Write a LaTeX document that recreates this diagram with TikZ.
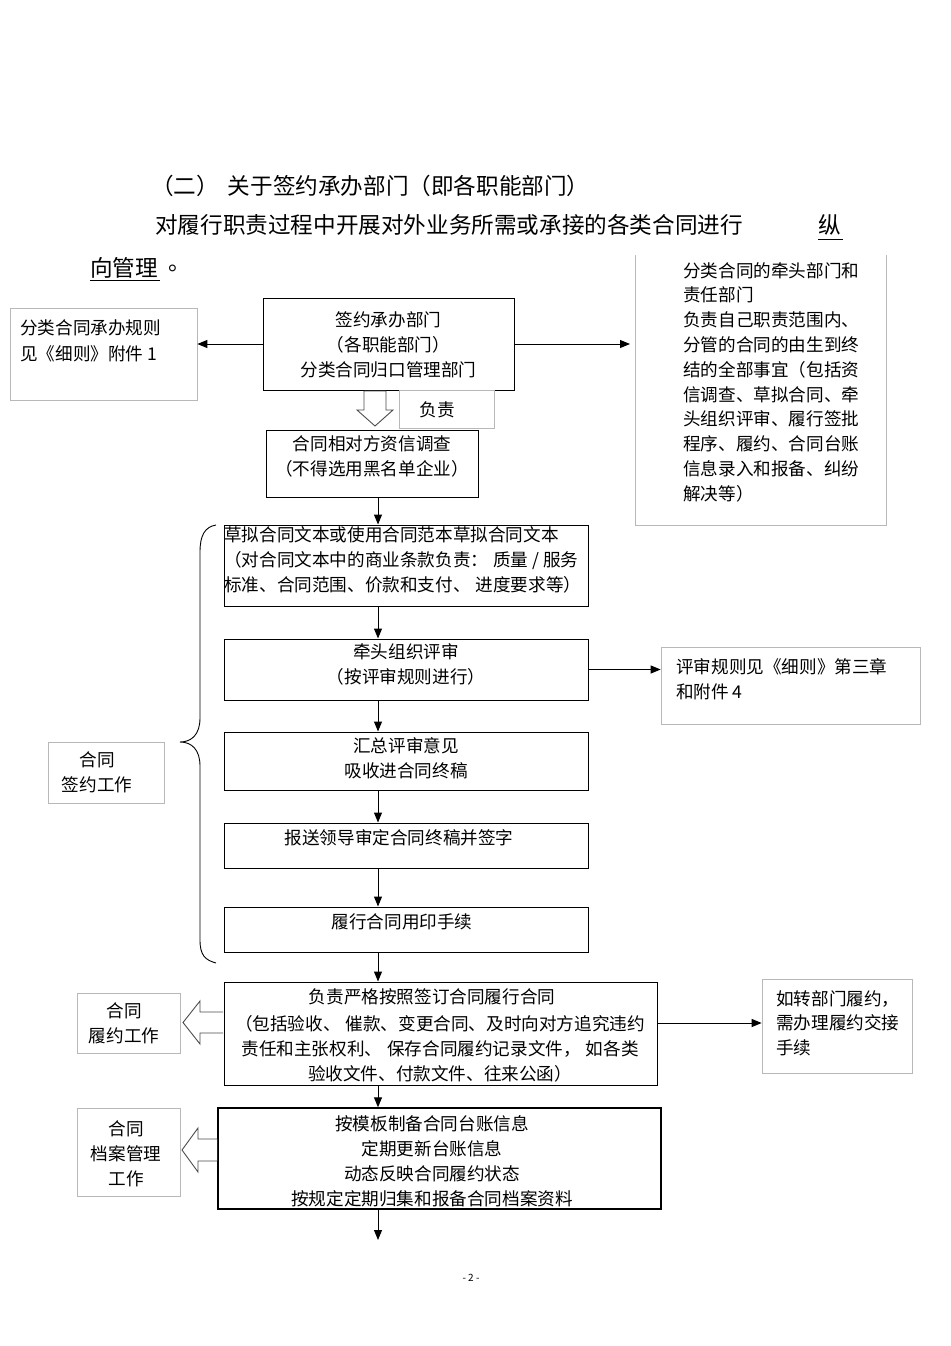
\documentclass[tikz,border=0pt]{standalone}
\usepackage{fontspec}
\setmainfont{Noto Sans CJK SC}
\usetikzlibrary{arrows.meta}
\begin{document}
\begin{tikzpicture}[x=1pt,y=-1pt,
  box/.style={draw=black,line width=1pt,inner sep=0pt,rectangle},
  gbox/.style={draw=black!28,line width=0.7pt,inner sep=0pt,rectangle},
  txt/.style={inner sep=0pt,font=\fontsize{17.6}{25}\selectfont,align=center},
  ltxt/.style={inner sep=0pt,font=\fontsize{17.6}{24.8}\selectfont,align=left,anchor=north west},
  ttl/.style={inner sep=0pt,font=\fontsize{22.6}{26}\selectfont,anchor=west},
  arr/.style={line width=1pt,-{Triangle[length=10pt,width=8pt]}},
  hollow/.style={draw=black!70,line width=0.9pt,fill=white}
]
\useasboundingbox (0,0) rectangle (950,1346);

% title
\node[ttl] (t1) at (151,186) {（二）\hspace{9pt}关于签约承办部门（即各职能部门）};
\node[ttl] (t2) at (155,225) {对履行职责过程中开展对外业务所需或承接的各类合同进行};
\node[ttl] (t2b) at (818,225) {纵};
\node[ttl] (t3) at (90,268) {向管理};
\node[ttl] (t3b) at (168,268) {。};
\draw[line width=0.8pt] (818,239) -- (843,239);
\draw[line width=0.8pt] (90,280) -- (160,280);

% main boxes
\node[box,minimum width=251pt,minimum height=92pt] (A) at (388.5,344) {};
\node[txt] (Atx) at (388.5,345) {签约承办部门\\（各职能部门）\\分类合同归口管理部门};

\node[gbox,minimum width=95pt,minimum height=38pt] (fz) at (446.5,409) {};
\node[txt] (fztx) at (437,410) {负责};

\node[box,minimum width=212pt,minimum height=67pt] (B) at (372,463.5) {};
\node[txt] (Btx) at (372,456.5) {合同相对方资信调查\\（不得选用黑名单企业）};

\node[box,minimum width=364pt,minimum height=81pt] (C) at (406,565.5) {};
\node[ltxt,font=\fontsize{17.6}{25}\selectfont] (Ctx) at (224,526) {草拟合同文本或使用合同范本草拟合同文本\\（对合同文本中的商业条款负责：\hspace{5pt}质量 / 服务\\标准、合同范围、价款和支付、\hspace{5pt}进度要求等）};

\node[box,minimum width=364pt,minimum height=61pt] (D) at (406,669.5) {};
\node[txt] (Dtx) at (406,664) {牵头组织评审\\（按评审规则进行）};

\node[box,minimum width=364pt,minimum height=58pt] (E) at (406,761) {};
\node[txt] (Etx) at (406,758) {汇总评审意见\\吸收进合同终稿};

\node[box,minimum width=364pt,minimum height=45pt] (F) at (406,845.5) {};
\node[txt] (Ftx) at (399,838) {报送领导审定合同终稿并签字};

\node[box,minimum width=364pt,minimum height=45pt] (G) at (406,929.5) {};
\node[txt] (Gtx) at (402,922) {履行合同用印手续};

\node[box,minimum width=433pt,minimum height=103pt] (H) at (440.5,1033.5) {};
\node[txt] (Htx1) at (432,997) {负责严格按照签订合同履行合同};
\node[txt] (Htx) at (440,1048.5) {（包括验收、\hspace{5pt}催款、变更合同、及时向对方追究违约\\责任和主张权利、\hspace{5pt}保存合同履约记录文件，\hspace{5pt}如各类\\验收文件、付款文件、往来公函）};

\node[box,line width=1.4pt,minimum width=443pt,minimum height=101pt] (I) at (439.5,1158.5) {};
\node[txt] (Itx) at (432,1161.5) {按模板制备合同台账信息\\定期更新台账信息\\动态反映合同履约状态\\按规定定期归集和报备合同档案资料};

% side boxes
\node[gbox,minimum width=187pt,minimum height=92pt] (L1) at (103.5,354) {};
\node[ltxt,font=\fontsize{17.6}{26}\selectfont] (L1tx) at (20,319) {分类合同承办规则\\见《细则》附件 1};

\coordinate (R1a) at (635,255);
\coordinate (R1b) at (886,255);
\draw[draw=black!28,line width=0.7pt] (R1a) -- (635,525) -- (886,525) -- (R1b);
\node[ltxt] (R1tx) at (683,262) {分类合同的牵头部门和\\责任部门\\负责自己职责范围内、\\分管的合同的由生到终\\结的全部事宜（包括资\\信调查、草拟合同、牵\\头组织评审、履行签批\\程序、履约、合同台账\\信息录入和报备、纠纷\\解决等）};
\coordinate (R1in) at (630,344);

\node[gbox,minimum width=259pt,minimum height=77pt] (R2) at (790.5,685.5) {};
\node[ltxt] (R2tx) at (676,658) {评审规则见《细则》第三章\\和附件 4};

\node[gbox,minimum width=116pt,minimum height=61pt] (L2) at (106,772.5) {};
\node[txt] (L2tx) at (97,772.5) {合同\\签约工作};

\node[gbox,minimum width=103pt,minimum height=60pt] (L3) at (128.5,1023) {};
\node[txt] (L3tx) at (124,1023.5) {合同\\履约工作};

\node[gbox,minimum width=103pt,minimum height=88pt] (L4) at (128.5,1152) {};
\node[txt] (L4tx) at (126,1154) {合同\\档案管理\\工作};

\node[gbox,minimum width=150pt,minimum height=94pt] (R3) at (837,1026) {};
\node[ltxt] (R3tx) at (776,990) {如转部门履约，\\需办理履约交接\\手续};

% connectors
\draw[arr] (A.west) -- (L1.east |- A.west);
\draw[arr] (A.east) -- (R1in);
\draw[arr] (B.south -| 378,0) -- (C.north -| 378,0);
\draw[arr] (C.south -| 378,0) -- (D.north -| 378,0);
\draw[arr] (D.east) -- (R2.west |- D.east);
\draw[arr] (D.south -| 378,0) -- (E.north -| 378,0);
\draw[arr] (E.south -| 378,0) -- (F.north -| 378,0);
\draw[arr] (F.south -| 378,0) -- (G.north -| 378,0);
\draw[arr] (G.south -| 378,0) -- (H.north -| 378,0);
\draw[arr] (H.east |- 0,1023) -- (R3.west |- 0,1023);
\draw[arr] (H.south -| 378,0) -- (I.north -| 378,0);
\coordinate (Iend) at (378,1240);
\draw[arr] (I.south -| 378,0) -- (Iend);

% hollow arrows
\draw[hollow] (364,391) -- (386,391) -- (386,410) -- (393,410) -- (375,426) -- (357,410) -- (364,410) -- cycle;
\draw[hollow] (223,1012) -- (200,1012) -- (200,1001) -- (183,1022.5) -- (200,1044) -- (200,1033) -- (223,1033);
\draw[hollow] (217,1139) -- (198,1139) -- (198,1128) -- (182,1150) -- (198,1172) -- (198,1161) -- (217,1161);

% brace
\draw[line width=0.9pt] (216,525) .. controls (205,527) and (200,535) .. (200,552) -- (200,718)
  .. controls (200,734) and (192,742) .. (180,742)
  .. controls (192,742) and (200,750) .. (200,766) -- (200,940)
  .. controls (200,955) and (205,960) .. (216,963);

% page number
\node[inner sep=0pt,font=\fontsize{10}{12}\selectfont] (pg) at (471,1278) {- 2 -};
\end{tikzpicture}
\end{document}
